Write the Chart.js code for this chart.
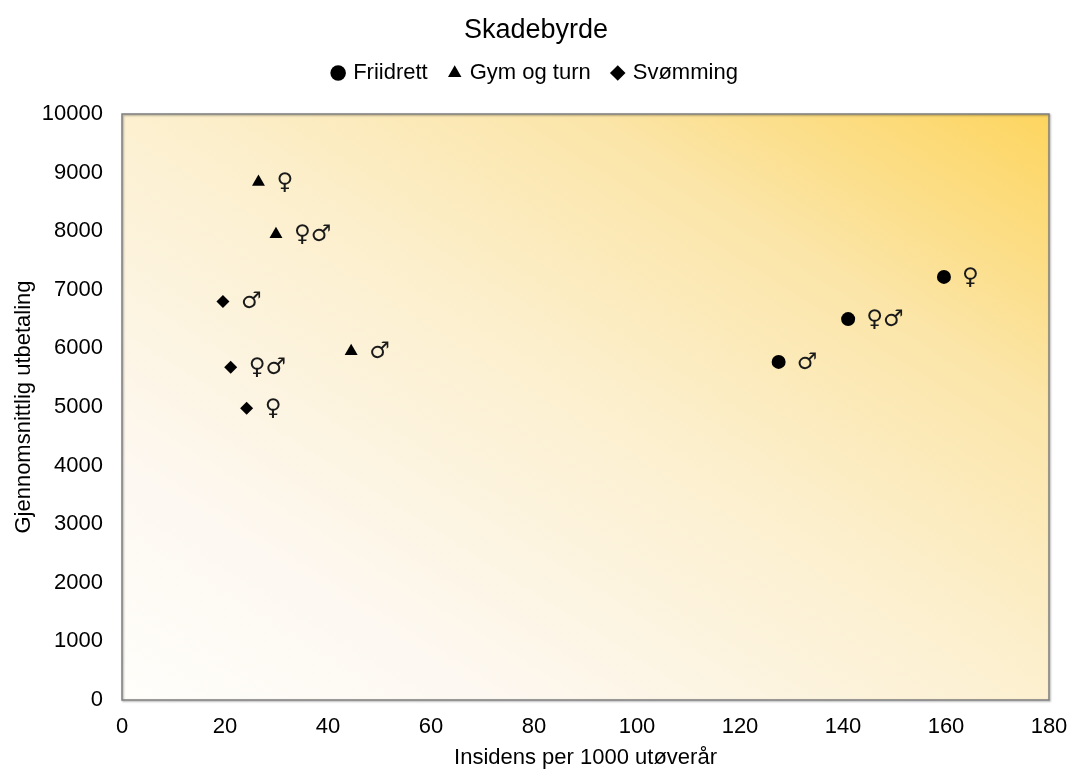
<!DOCTYPE html>
<html>
<head>
<meta charset="utf-8">
<script src="https://cdn.jsdelivr.net/npm/chart.js@4.4.1/dist/chart.umd.min.js"></script>
<style>
html, body { margin: 0; padding: 0; background: #fff; }
#wrap { width: 1072px; height: 769px; }
</style>
</head>
<body>
<div id="wrap"><canvas id="chart" width="1072" height="769"></canvas></div>
<script>
// Verdier lest av figuren
const friidrettX = [127.5, 141.0, 159.6];
const friidrettY = [5770, 6500, 7220];
const friidrettLabels = ['♂', '♀♂', '♀'];

const gymX = [26.5, 29.9, 44.5];
const gymY = [8840, 7950, 5950];
const gymLabels = ['♀', '♀♂', '♂'];

const svommingX = [19.6, 21.1, 24.2];
const svommingY = [6800, 5680, 4980];
const svommingLabels = ['♂', '♀♂', '♀'];

const xTicks = [0, 20, 40, 60, 80, 100, 120, 140, 160, 180];
const yTicks = [0, 1000, 2000, 3000, 4000, 5000, 6000, 7000, 8000, 9000, 10000];

function toPoints(xs, ys) {
    return xs.map((x, i) => ({ x: x, y: ys[i] }));
}

Chart.defaults.font.family = "'Liberation Sans', Arial, sans-serif";
Chart.defaults.color = '#000';

// Gradient bakgrunn + ramme rundt plotteområdet
const plotBackground = {
    id: 'plotBackground',
    beforeDraw(chart) {
        const { ctx, chartArea: a } = chart;
        ctx.save();
        ctx.translate(a.left, a.top);
        ctx.scale(a.width, a.height);
        const g = ctx.createLinearGradient(0, 1, 1, 0);
        g.addColorStop(0, '#fffefa');
        g.addColorStop(0.2, '#fdf8f1');
        g.addColorStop(0.5, '#fcf0d0');
        g.addColorStop(0.75, '#fbe5a8');
        g.addColorStop(1, '#fdd55f');
        ctx.fillStyle = g;
        ctx.fillRect(0, 0, 1, 1);
        ctx.restore();
    },
    beforeDatasetsDraw(chart) {
        const { ctx, chartArea: a } = chart;
        ctx.save();
        ctx.shadowColor = 'rgba(0,0,0,0.35)';
        ctx.shadowBlur = 2;
        ctx.shadowOffsetX = 1;
        ctx.shadowOffsetY = 1;
        ctx.strokeStyle = '#7f7f7f';
        ctx.lineWidth = 1.5;
        ctx.strokeRect(a.left, a.top, a.width, a.height);
        ctx.restore();
    }
};

// Kjønnssymboler ved punktene
const sexLabels = {
    id: 'sexLabels',
    afterDatasetsDraw(chart) {
        const ctx = chart.ctx;
        ctx.save();
        ctx.font = "23px 'DejaVu Sans'";
        ctx.fillStyle = '#1a1a1a';
        ctx.textAlign = 'left';
        ctx.textBaseline = 'middle';
        chart.data.datasets.forEach((ds, i) => {
            const meta = chart.getDatasetMeta(i);
            meta.data.forEach((pt, j) => {
                ctx.fillText(ds.sexLabels[j], pt.x + 18, pt.y + 1);
            });
        });
        ctx.restore();
    }
};

// Fast høyde på legenden slik at plotteområdet starter riktig
const legendHeight = {
    id: 'legendHeight',
    beforeInit(chart) {
        const fit = chart.legend.fit;
        chart.legend.fit = function () {
            fit.call(this);
            this.height = 75;
        };
    }
};

const canvas = document.getElementById('chart');
new Chart(canvas.getContext('2d'), {
    type: 'scatter',
    data: {
        datasets: [
            {
                label: 'Friidrett',
                data: toPoints(friidrettX, friidrettY),
                sexLabels: friidrettLabels,
                pointStyle: 'circle',
                pointRadius: 7,
                backgroundColor: '#000',
                borderColor: '#000',
                borderWidth: 0
            },
            {
                label: 'Gym og turn',
                data: toPoints(gymX, gymY),
                sexLabels: gymLabels,
                pointStyle: 'triangle',
                pointRadius: 7.5,
                backgroundColor: '#000',
                borderColor: '#000',
                borderWidth: 0
            },
            {
                label: 'Svømming',
                data: toPoints(svommingX, svommingY),
                sexLabels: svommingLabels,
                pointStyle: 'rectRot',
                pointRadius: 6.5,
                backgroundColor: '#000',
                borderColor: '#000',
                borderWidth: 0
            }
        ]
    },
    options: {
        responsive: false,
        devicePixelRatio: 1,
        animation: false,
        layout: { padding: { left: 23, right: 23, top: 0, bottom: 0 } },
        plugins: {
            title: {
                display: true,
                text: 'Skadebyrde',
                color: '#000',
                font: { size: 27, weight: 'normal', lineHeight: 1 },
                padding: { top: 17, bottom: -5 }
            },
            legend: {
                display: true,
                position: 'top',
                labels: {
                    usePointStyle: true,
                    boxWidth: 8,
                    boxHeight: 11,
                    padding: 23,
                    color: '#000',
                    font: { size: 22 }
                }
            },
            tooltip: { enabled: false }
        },
        scales: {
            x: {
                type: 'linear',
                min: 0,
                max: 180,
                afterBuildTicks: (scale) => { scale.ticks = xTicks.map(v => ({ value: v })); },
                afterFit: (scale) => {
                    scale.height = 69;
                    scale.paddingLeft = 0;
                    scale.paddingRight = 0;
                },
                grid: { display: false, drawTicks: false },
                border: { display: false },
                ticks: {
                    padding: 14,
                    maxRotation: 0,
                    font: { size: 22 },
                    color: '#000',
                    callback: (v) => String(v)
                },
                title: {
                    display: true,
                    text: 'Insidens per 1000 utøverår',
                    color: '#000',
                    font: { size: 22, lineHeight: 1 },
                    padding: { top: 0, bottom: 0 }
                }
            },
            y: {
                type: 'linear',
                min: 0,
                max: 10000,
                afterBuildTicks: (scale) => { scale.ticks = yTicks.map(v => ({ value: v })); },
                afterFit: (scale) => { scale.width = 99; },
                grid: { display: false, drawTicks: false },
                border: { display: false },
                ticks: {
                    padding: 19,
                    font: { size: 22 },
                    color: '#000',
                    callback: (v) => String(v)
                },
                title: {
                    display: true,
                    text: 'Gjennomsnittlig utbetaling',
                    color: '#000',
                    font: { size: 22, lineHeight: 1 },
                    padding: { top: -10, bottom: 0 }
                }
            }
        }
    },
    plugins: [plotBackground, sexLabels, legendHeight]
});
</script>
</body>
</html>
